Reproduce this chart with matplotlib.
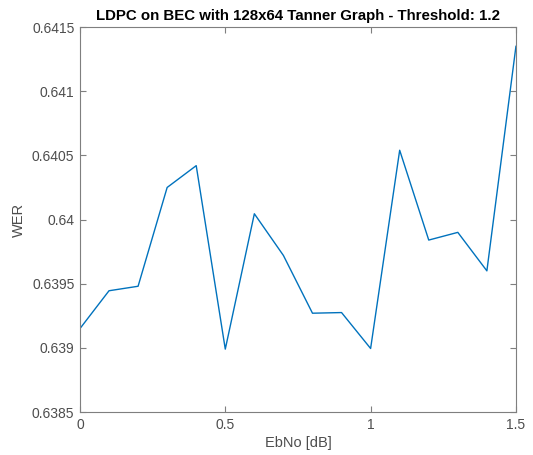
import numpy as np
import matplotlib
matplotlib.use('Agg')
import matplotlib.pyplot as plt

# EbNo sweep and measured word error rate
ebno = [0.0, 0.1, 0.2, 0.3, 0.4, 0.5, 0.6, 0.7, 0.8, 0.9, 1.0, 1.1, 1.2, 1.3, 1.4, 1.5]
wer = [0.63915, 0.639445, 0.63948, 0.64025, 0.64042, 0.63899, 0.640045, 0.63972,
       0.63927, 0.639275, 0.638995, 0.64054, 0.63984, 0.6399, 0.6396, 0.64135]

x_ticks = [0, 0.5, 1, 1.5]
x_labels = ['0', '0.5', '1', '1.5']
y_ticks = [0.6385, 0.639, 0.6395, 0.64, 0.6405, 0.641, 0.6415]
y_labels = ['0.6385', '0.639', '0.6395', '0.64', '0.6405', '0.641', '0.6415']

plt.rcParams['font.family'] = ['Liberation Sans', 'DejaVu Sans']

fig = plt.figure(figsize=(5.33, 4.55), dpi=100)
ax = fig.add_axes([0.150, 0.0945, 0.818, 0.846])

ax.plot(ebno, wer, color=(0, 0.447, 0.741), linewidth=1.0)

ax.set_xlim(0, 1.5)
ax.set_ylim(0.6385, 0.6415)
ax.set_xticks(x_ticks)
ax.set_xticklabels(x_labels)
ax.set_yticks(y_ticks)
ax.set_yticklabels(y_labels)

# matlab-ish look: grey box, inward ticks, ticks on all sides
for s in ax.spines.values():
    s.set_color('#7f7f7f')
    s.set_linewidth(0.8)
ax.tick_params(direction='in', length=4, width=0.8, colors='#7f7f7f',
               labelcolor='#4d4d4d', labelsize=10, top=True, right=True, pad=4)

ax.set_xlabel('EbNo [dB]', fontsize=10.5, color='#4d4d4d', labelpad=3)
ax.set_ylabel('WER', fontsize=10.5, color='#4d4d4d', labelpad=4)
ax.set_title('LDPC on BEC with 128x64 Tanner Graph - Threshold: 1.2',
             fontsize=10.8, fontweight='bold', pad=5)

fig.savefig('out.png', dpi=100)
